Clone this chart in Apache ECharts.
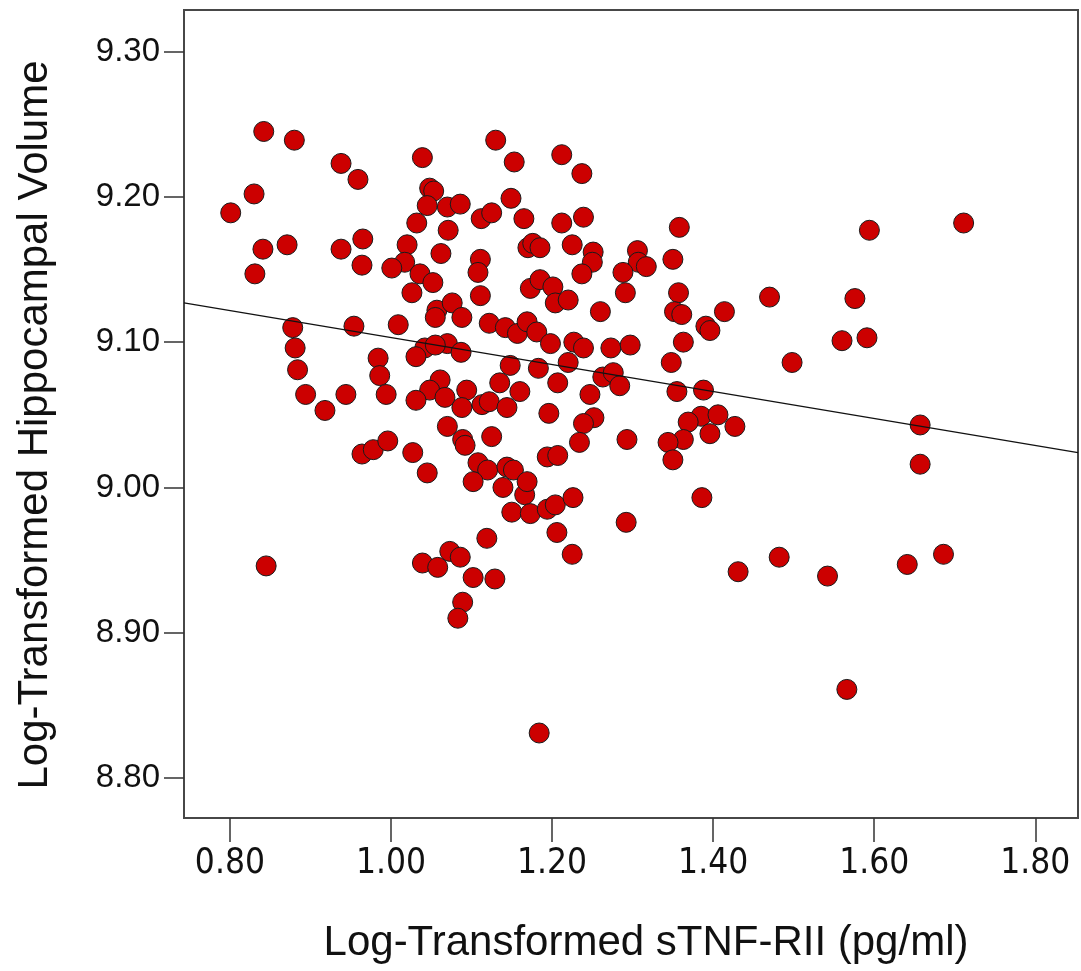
<!DOCTYPE html>
<html><head><meta charset="utf-8">
<script src="https://cdn.jsdelivr.net/npm/echarts@6/dist/echarts.min.js"></script>
<style>html,body{margin:0;padding:0;background:#fff}#c{width:1081px;height:971px}</style>
</head><body><div id="c"></div>
<script>
// sTNF-RII (log) values
const xValues = [
  0.801,0.830,0.842,0.880,0.841,0.871,0.831,0.938,0.959,0.938,0.965,0.964,0.878,0.881,0.884,0.894,0.918,0.944,0.954,0.984,0.986,0.994,0.845,0.964,0.978,0.996,1.027,1.045,
  1.039,1.130,1.153,1.212,1.237,1.048,1.053,1.045,1.070,1.086,1.032,1.071,1.062,1.020,1.017,1.001,1.036,1.052,1.026,1.112,1.125,1.149,1.165,1.212,1.239,1.170,1.176,1.185,1.225,1.251,1.250,1.306,1.307,1.317,1.237,1.288,1.291,1.111,1.108,1.111,1.173,1.185,1.201,1.204,1.220,1.260,
  1.057,1.055,1.076,1.088,1.122,1.009,1.142,1.157,1.169,1.181,1.198,1.227,1.239,1.273,1.297,1.042,1.031,1.070,1.087,1.055,1.061,1.048,1.067,1.094,1.031,1.088,1.113,1.122,1.135,1.144,1.148,1.183,1.220,1.207,1.160,1.196,1.247,1.263,1.276,1.284,1.252,1.239,
  1.070,1.089,1.092,1.125,1.108,1.120,1.102,1.139,1.144,1.152,1.166,1.169,1.150,1.173,1.194,1.204,1.226,1.206,1.225,1.119,1.234,1.293,1.194,1.207,1.292,1.039,1.058,1.073,1.086,1.102,1.129,1.089,1.083,1.184,
  1.358,1.594,1.711,1.350,1.357,1.352,1.361,1.414,1.470,1.576,1.391,1.396,1.363,1.560,1.591,1.498,1.348,1.355,1.388,1.657,1.657,1.385,1.406,1.369,1.427,1.396,1.363,1.344,1.350,1.386,1.431,1.482,1.542,1.641,1.686,1.566
];
// Hippocampal volume (log) values
const yValues = [
  9.189,9.202,9.245,9.239,9.164,9.167,9.147,9.223,9.212,9.164,9.171,9.153,9.110,9.096,9.081,9.064,9.053,9.064,9.111,9.089,9.077,9.064,8.946,9.023,9.026,9.032,9.024,9.010,
  9.227,9.239,9.224,9.229,9.216,9.206,9.204,9.194,9.193,9.195,9.182,9.177,9.161,9.167,9.155,9.151,9.147,9.141,9.134,9.185,9.189,9.199,9.185,9.182,9.186,9.165,9.168,9.165,9.167,9.162,9.155,9.163,9.155,9.152,9.147,9.148,9.134,9.157,9.148,9.132,9.137,9.143,9.138,9.127,9.129,9.121,
  9.122,9.117,9.127,9.117,9.113,9.112,9.110,9.106,9.114,9.107,9.099,9.100,9.096,9.096,9.098,9.096,9.090,9.099,9.093,9.098,9.074,9.067,9.062,9.067,9.060,9.055,9.057,9.059,9.072,9.055,9.084,9.082,9.086,9.072,9.066,9.051,9.064,9.076,9.079,9.070,9.048,9.044,
  9.042,9.033,9.029,9.035,9.017,9.012,9.004,9.000,9.014,9.012,8.995,9.004,8.983,8.982,8.985,8.988,8.993,8.969,8.954,8.965,9.031,9.033,9.021,9.022,8.976,8.948,8.945,8.956,8.952,8.938,8.937,8.921,8.910,8.831,
  9.179,9.177,9.182,9.157,9.134,9.121,9.119,9.121,9.131,9.130,9.111,9.108,9.100,9.101,9.103,9.086,9.086,9.066,9.067,9.043,9.016,9.049,9.050,9.045,9.042,9.037,9.033,9.031,9.019,8.993,8.942,8.952,8.939,8.947,8.954,8.861
];
const xTicks = [0.8, 1.0, 1.2, 1.4, 1.6, 1.8];
const yTicks = [8.8, 8.9, 9.0, 9.1, 9.2, 9.3];
const fitX = [0.743, 1.853];
const fitY = [9.127, 9.024];
const xTitle = 'Log-Transformed sTNF-RII (pg/ml)';
const yTitle = 'Log-Transformed Hippocampal Volume';

const points = xValues.map((x, i) => [x, yValues[i]]);
const fitLine = fitX.map((x, i) => [x, fitY[i]]);

const chart = echarts.init(document.getElementById('c'), null, {renderer: 'canvas'});
chart.setOption({
  animation: false,
  backgroundColor: '#ffffff',
  grid: {left: 184, right: 3, top: 10, bottom: 153, show: true, borderColor: '#474747', borderWidth: 2, backgroundColor: '#ffffff'},
  xAxis: {
    type: 'value', min: 0.743, max: 1.853,
    axisLine: {show: false},
    splitLine: {show: false},
    axisTick: {show: true, length: 24, customValues: xTicks, lineStyle: {color: '#333', width: 1.5}},
    axisLabel: {customValues: xTicks, margin: 28, fontSize: 35, color: '#111',
      fontFamily: "'DejaVu Sans Condensed','Liberation Sans Narrow',sans-serif",
      formatter: v => v.toFixed(2)},
    name: xTitle, nameLocation: 'middle', nameGap: 104,
    nameTextStyle: {fontSize: 42, color: '#111', fontFamily: "'Liberation Sans',Arial,sans-serif", padding: [0, 0, 0, 30]}
  },
  yAxis: {
    type: 'value', min: 8.7725, max: 9.3286,
    axisLine: {show: false},
    splitLine: {show: false},
    axisTick: {show: true, length: 20, customValues: yTicks, lineStyle: {color: '#333', width: 1.5}},
    axisLabel: {customValues: yTicks, margin: 24, fontSize: 33, color: '#111',
      fontFamily: "'Liberation Sans',Arial,sans-serif",
      formatter: v => v.toFixed(2)},
    name: yTitle, nameLocation: 'middle', nameGap: 128,
    nameTextStyle: {fontSize: 42, color: '#111', fontFamily: "'Liberation Sans',Arial,sans-serif", padding: [0, 22, 0, 0]}
  },
  series: [
    {type: 'scatter', data: points, symbol: 'circle', symbolSize: 20,
     itemStyle: {color: '#cc0000', borderColor: '#1a1a1a', borderWidth: 1, opacity: 1}, z: 2},
    {type: 'line', data: fitLine, symbol: 'none', lineStyle: {color: '#111', width: 1.3}, z: 3, silent: true}
  ]
});
</script></body></html>
